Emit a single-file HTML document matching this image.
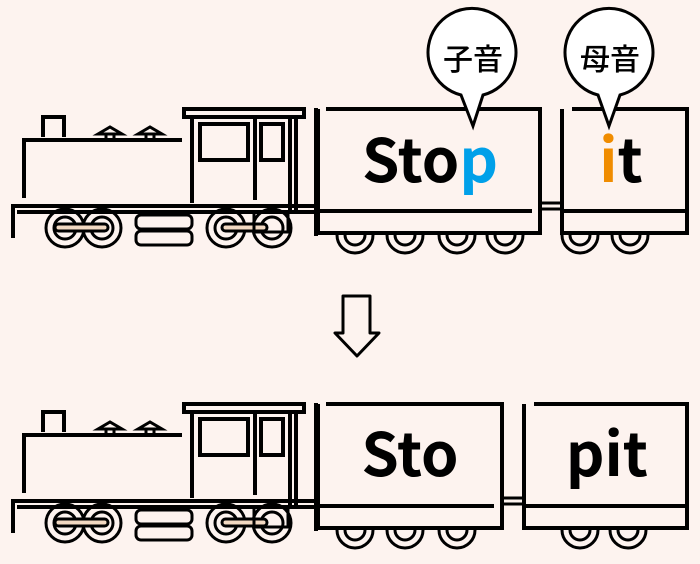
<!DOCTYPE html>
<html><head><meta charset="utf-8"><style>
html,body{margin:0;padding:0;background:#fdf3ef;}
svg{display:block}
text{font-family:"Noto Sans CJK JP","Liberation Sans",sans-serif;font-weight:bold}
</style></head><body>
<svg width="700" height="564" viewBox="0 0 700 564" xmlns="http://www.w3.org/2000/svg">
<defs>
<g id="loco" fill="none" stroke="#000" stroke-width="4">
  <polyline points="43,137 43,117 64,117 64,137"/>
  <polyline points="24,198 24,140 182,140"/>
  <path d="M98,134 L110,127 L122,134 Z M138,134 L150,127 L162,134 Z" stroke-width="3"/>
  <line x1="106" y1="134" x2="106" y2="140" stroke-width="3"/><line x1="114" y1="134" x2="114" y2="140" stroke-width="3"/>
  <line x1="146" y1="134" x2="146" y2="140" stroke-width="3"/><line x1="154" y1="134" x2="154" y2="140" stroke-width="3"/>
  <rect x="184" y="109" width="120" height="8"/>
  <line x1="192" y1="117" x2="192" y2="203"/>
  <line x1="290" y1="117" x2="290" y2="210"/>
  <line x1="296" y1="117" x2="296" y2="210"/>
  <line x1="255" y1="117" x2="255" y2="200"/>
  <rect x="200" y="124" width="48" height="36"/>
  <rect x="261" y="124" width="22" height="36"/>
  <path d="M13,238 L13,206 L318,206 M17,212 L318,212"/>
  <rect x="136" y="215" width="56" height="14" rx="5" stroke-width="3"/>
  <rect x="136" y="231" width="56" height="14" rx="5" stroke-width="3"/>
  <g stroke-width="3">
    <circle cx="65" cy="228" r="19"/><circle cx="65" cy="228" r="11"/>
    <circle cx="102" cy="228" r="19"/><circle cx="102" cy="228" r="11"/>
    <circle cx="226" cy="228" r="19"/><circle cx="226" cy="228" r="11"/>
    <circle cx="272" cy="228" r="19"/><circle cx="272" cy="228" r="11"/>
  </g>
  <rect x="55" y="224" width="53" height="7" rx="3.5" fill="#f3d9c2" stroke-width="3"/>
  <rect x="222" y="224" width="45" height="7" rx="3.5" fill="#f3d9c2" stroke-width="3"/>
  <rect x="254" y="212" width="34" height="20" stroke-width="3"/>
  <line x1="316" y1="108" x2="316" y2="236"/>
</g>
<g id="wh" fill="none" stroke="#000" stroke-width="3">
  <path d="M-18,0 A18,18 0 0 0 18,0 M-10,0 A10,10 0 0 0 10,0"/>
</g>
</defs>

<!-- TOP -->
<use href="#loco"/>
<g fill="none" stroke="#000" stroke-width="4">
  <line x1="540" y1="203" x2="562" y2="203" stroke-width="3"/>
  <line x1="540" y1="209" x2="562" y2="209" stroke-width="3"/>
  <polyline points="326,109 540,109 540,233 318,233 318,109"/>
  <line x1="318" y1="211" x2="532" y2="211"/>
  <polyline points="572,109 687,109 687,233 562,233 562,109"/>
  <line x1="562" y1="211" x2="687" y2="211"/>
</g>
<use href="#wh" x="355" y="235"/><use href="#wh" x="405" y="235"/><use href="#wh" x="457" y="235"/><use href="#wh" x="505" y="235"/>
<use href="#wh" x="580" y="235"/><use href="#wh" x="630" y="235"/>
<text x="430" y="182" font-size="60" fill="#000" text-anchor="middle">Sto<tspan fill="#00a0e9">p</tspan></text>
<text x="621" y="182" font-size="60" fill="#000" text-anchor="middle"><tspan fill="#f08c00">i</tspan>t</text>
<g fill="#fff" stroke="#000" stroke-width="3">
  <path d="M461,95 A44,44 0 1 1 483,95 L473,126 Z"/>
  <path d="M598,95 A44,44 0 1 1 620,95 L609,126 Z"/>
</g>
<text x="473" y="70" font-size="30" font-weight="500" style="font-weight:500" text-anchor="middle">子音</text>
<text x="610" y="70" font-size="30" style="font-weight:500" text-anchor="middle">母音</text>

<!-- ARROW -->
<path d="M343,296 L370,296 L370,333 L379,333 L357,356 L335,333 L343,333 Z" fill="none" stroke="#000" stroke-width="3" stroke-linejoin="round"/>

<!-- BOTTOM -->
<use href="#loco" y="295"/>
<g fill="none" stroke="#000" stroke-width="4">
  <line x1="502" y1="498" x2="524" y2="498" stroke-width="3"/>
  <line x1="502" y1="504" x2="524" y2="504" stroke-width="3"/>
  <polyline points="326,404 502,404 502,528 318,528 318,404"/>
  <line x1="318" y1="506" x2="494" y2="506"/>
  <polyline points="534,404 687,404 687,528 524,528 524,404"/>
  <line x1="524" y1="506" x2="687" y2="506"/>
</g>
<use href="#wh" x="355" y="530"/><use href="#wh" x="405" y="530"/><use href="#wh" x="457" y="530"/>
<use href="#wh" x="580" y="530"/><use href="#wh" x="628" y="530"/>
<text x="410" y="476" font-size="60" fill="#000" text-anchor="middle">Sto</text>
<text x="607" y="476" font-size="60" fill="#000" text-anchor="middle">pit</text>
</svg>
</body></html>
